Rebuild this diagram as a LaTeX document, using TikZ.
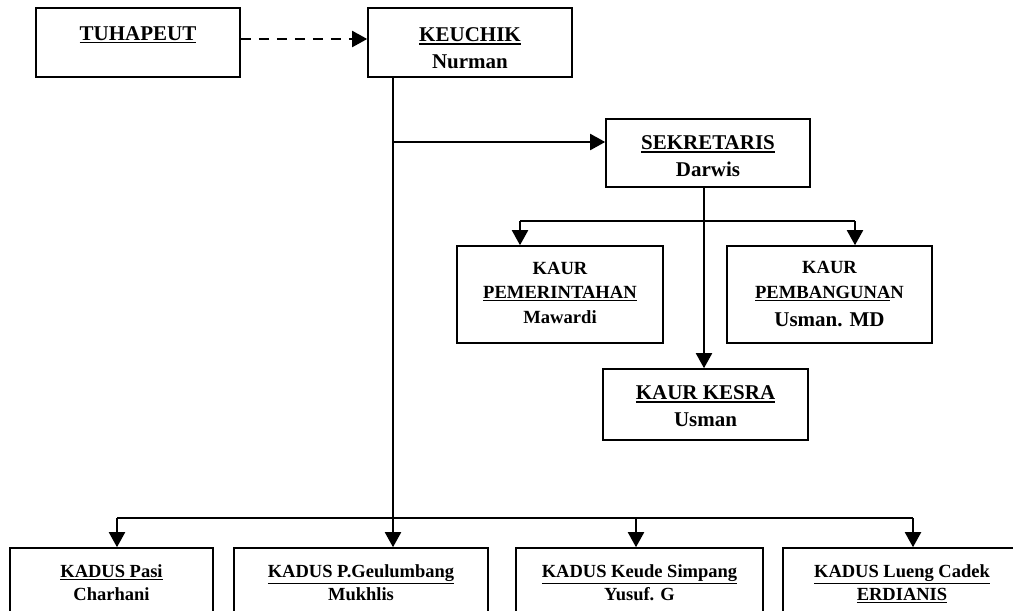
\documentclass[tikz,border=0pt]{standalone}
\usepackage{fontspec}
\setmainfont{Liberation Serif}
\usetikzlibrary{arrows.meta}
\newcommand\fbig{\fontsize{21}{26.6}\selectfont\bfseries}
\newcommand\fsml{\fontsize{18.6}{24.5}\selectfont\bfseries}
\newcommand\fkad{\fontsize{18.5}{23}\selectfont\bfseries}
\newcommand\ulx[1]{\leavevmode\vtop{\hbox{#1}\kern1.2pt\hrule height 1.6pt}}
\newcommand\orgbox[8]{%
  \node[orgframe, minimum width=#4pt, minimum height=#5pt] (#1) at (#2,#3) {};
  \node[orgtext, font=#7, yshift=#6pt] (#1-t) at (#1.center) {#8};
}
\tikzset{
  orgframe/.style={draw, line width=1.6pt, inner sep=0pt},
  orgtext/.style={inner sep=0pt, align=center},
  conn/.style={line width=2pt, -{Triangle[length=15pt,width=16pt]}},
  plain/.style={line width=2pt},
}
\begin{document}
\begin{tikzpicture}[x=1pt,y=-1pt]
\useasboundingbox (0,0) rectangle (1013,611);
\clip (0,0) rectangle (1013,611);
% top row
\orgbox{tuh}{138}{42.5}{204}{69}{7.5}{\fbig}{\ulx{TUHAPEUT}}
\orgbox{keu}{470}{42.5}{204}{69}{-5.5}{\fbig}{\ulx{KEUCHIK}\\Nurman}
\orgbox{sek}{708}{153}{204}{68}{-3.4}{\fbig}{\ulx{SEKRETARIS}\\Darwis}
% kaur
\orgbox{kp}{560}{294.5}{206}{97}{2}{\fsml}{KAUR\\\ulx{PEMERINTAHAN}\\Mawardi}
\orgbox{kb}{829.5}{294.5}{205}{97}{0}{\fsml}{KAUR\\\ulx{PEMBANGUNA}N\\[4pt]{\fbig Usman. MD}}
\orgbox{kk}{705.5}{404.5}{205}{71}{-1.5}{\fbig}{\ulx{KAUR KESRA}\\Usman}
% kadus
\orgbox{d1}{111.5}{582.5}{203}{69}{0}{\fkad}{\ulx{KADUS Pasi}\\Charhani}
\orgbox{d2}{361}{582.5}{254}{69}{0}{\fkad}{\ulx{KADUS P.Geulumbang}\\Mukhlis}
\orgbox{d3}{639.5}{582.5}{247}{69}{0}{\fkad}{\ulx{KADUS Keude Simpang}\\Yusuf. G}
\orgbox{d4}{902}{582.5}{238}{69}{-1.5}{\fkad}{\ulx{KADUS Lueng Cadek}\\\ulx{ERDIANIS}}
% junction coordinates
\coordinate (jk) at (393,518);
\coordinate (js) at (393,142);
\coordinate (jr) at (704,221);
\coordinate (jp) at (520,221);
\coordinate (jb) at (855,221);
\coordinate (j1) at (117,518);
\coordinate (j3) at (636,518);
\coordinate (j4) at (913,518);
% connectors
\draw[conn, dashed, dash pattern=on 10pt off 8pt] ([yshift=3.5pt]tuh.east) -- ([yshift=3.5pt]keu.west);
\draw[conn] (keu.south -| jk) -- (d2.north -| jk);
\draw[conn] (js) -- (sek.west |- js);
\draw[conn] (sek.south -| jr) -- (kk.north -| jr);
\draw[plain] (jp) -- (jb);
\draw[conn] (jp) -- (kp.north -| jp);
\draw[conn] (jb) -- (kb.north -| jb);
\draw[plain] (j1) -- (j4);
\draw[conn] (j1) -- (d1.north -| j1);
\draw[conn] (j3) -- (d3.north -| j3);
\draw[conn] (j4) -- (d4.north -| j4);
\end{tikzpicture}
\end{document}
